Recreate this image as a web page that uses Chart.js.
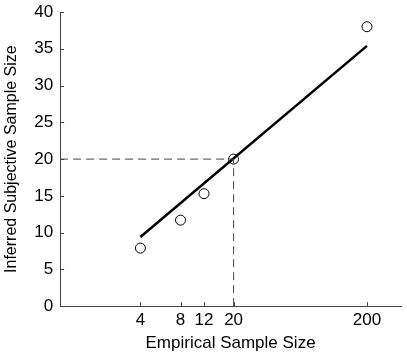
<!DOCTYPE html>
<html>
<head>
<meta charset="utf-8">
<script src="https://cdn.jsdelivr.net/npm/chart.js@4/dist/chart.umd.min.js"></script>
<style>
  html, body { margin: 0; padding: 0; background: #fff; }
  #wrap { width: 407px; height: 354px; }
</style>
</head>
<body>
<div id="wrap"><canvas id="grafico"></canvas></div>
<script>
// dados
const sampleSizes = [4, 8, 12, 20, 200];
const inferredSizes = [7.9, 11.7, 15.3, 20, 38];
const fitX = [4, 200];
const fitY = [9.4, 35.4];
const xTicks = [4, 8, 12, 20, 200];
const refValue = 20;

const pts = sampleSizes.map((v, i) => ({ x: v, y: inferredSizes[i] }));
const fit = fitX.map((v, i) => ({ x: v, y: fitY[i] }));

// marcas dos ticks para dentro (como no matlab)
const inwardTicks = {
  id: "inwardTicks",
  afterDraw(chart) {
    const ctx = chart.ctx, xs = chart.scales.x, ys = chart.scales.y;
    ctx.save();
    ctx.strokeStyle = "#444";
    ctx.lineWidth = 1;
    ctx.beginPath();
    xs.ticks.forEach(t => {
      const px = Math.round(xs.getPixelForValue(t.value)) + 0.5;
      ctx.moveTo(px, ys.bottom);
      ctx.lineTo(px, ys.bottom - 4);
    });
    ys.ticks.forEach(t => {
      const py = Math.round(ys.getPixelForValue(t.value)) + 0.5;
      ctx.moveTo(xs.left, py);
      ctx.lineTo(xs.left + 4, py);
    });
    ctx.stroke();
    ctx.restore();
  }
};

const fonte = { family: "Liberation Sans", size: 17 };

const config = {
  type: "scatter",
  data: {
    datasets: [
      {
        label: "ref h",
        data: [{ x: 1, y: refValue }, { x: refValue, y: refValue }],
        showLine: true,
        borderColor: "#444",
        borderWidth: 1,
        borderDash: [8, 5],
        pointRadius: 0
      },
      {
        label: "ref v",
        data: [{ x: refValue, y: 0 }, { x: refValue, y: refValue }],
        showLine: true,
        borderColor: "#444",
        borderWidth: 1,
        borderDash: [8, 5],
        pointRadius: 0
      },
      {
        label: "fit",
        data: fit,
        showLine: true,
        borderColor: "#000",
        borderWidth: 2.5,
        pointRadius: 0
      },
      {
        label: "dados",
        data: pts,
        pointRadius: 5,
        pointBackgroundColor: "#fff",
        pointBorderColor: "#000",
        pointBorderWidth: 1
      }
    ]
  },
  options: {
    responsive: true,
    maintainAspectRatio: false,
    animation: false,
    layout: { padding: { top: 12, right: 2, left: 2, bottom: 0 } },
    plugins: { legend: { display: false }, tooltip: { enabled: false } },
    scales: {
      x: {
        type: "logarithmic",
        min: 1,
        max: 360,
        afterBuildTicks: s => { s.ticks = xTicks.map(v => ({ value: v })); },
        ticks: {
          color: "#000",
          font: fonte,
          padding: 3.5,
          maxRotation: 0,
          autoSkip: false,
          callback: v => String(v)
        },
        grid: { drawOnChartArea: false, drawTicks: false },
        border: { color: "#444", width: 1 },
        title: {
          display: true,
          text: "Empirical Sample Size",
          color: "#000",
          font: fonte,
          padding: { top: 0, bottom: 0 }
        }
      },
      y: {
        min: 0,
        max: 40,
        afterFit: s => { s.paddingTop = 0; s.paddingBottom = 0; },
        ticks: {
          stepSize: 5,
          color: "#000",
          font: fonte,
          padding: 7
        },
        grid: { drawOnChartArea: false, drawTicks: false },
        border: { color: "#444", width: 1 },
        title: {
          display: true,
          text: "Inferred Subjective Sample Size",
          color: "#000",
          font: { family: "Liberation Sans", size: 16 },
          padding: { top: 0, bottom: 6 }
        }
      }
    }
  },
  plugins: [inwardTicks]
};

new Chart(document.getElementById("grafico"), config);
</script>
</body>
</html>
